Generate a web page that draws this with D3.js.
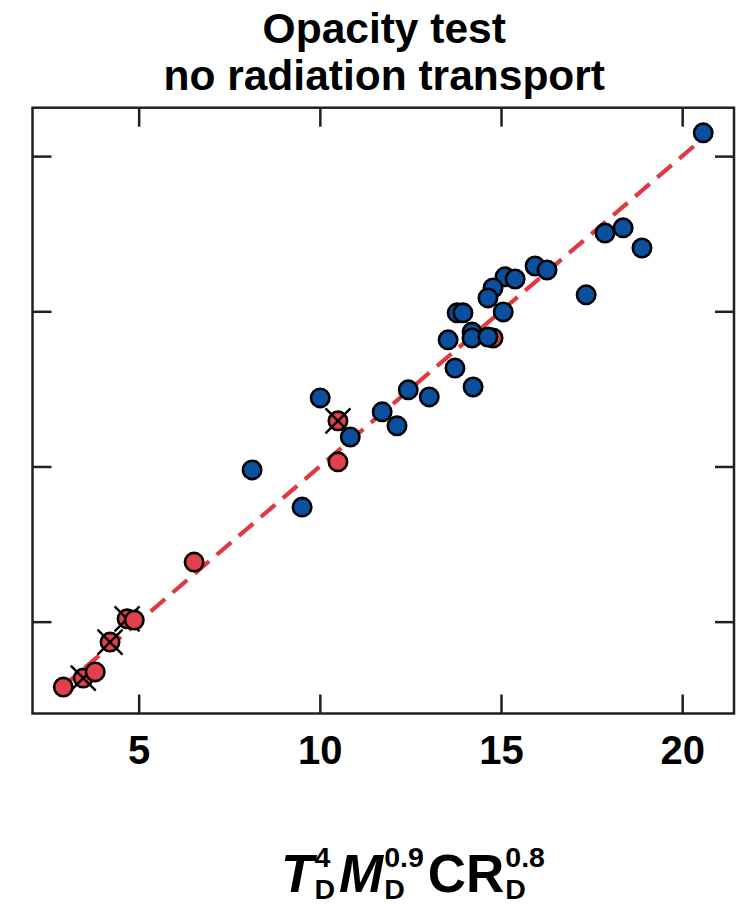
<!DOCTYPE html>
<html><head><meta charset="utf-8">
<script src="https://cdn.jsdelivr.net/npm/d3@7"></script>
<style>body{margin:0;background:#fff}svg{display:block}text{font-family:"Liberation Sans",Arial,Helvetica,sans-serif;font-weight:bold;fill:#000}</style>
</head><body>
<script>
// data (x, y)
const blueX = [20.58,17.87,18.37,18.89,15.94,16.27,15.11,15.39,14.78,14.64,15.06,17.35,13.79,13.95,14.20,14.20,14.64,13.54,13.73,14.23,12.44,13.02,11.72,12.13,10.84,10.01,8.13,9.51];
const blueY = [20.75,17.52,17.69,17.04,16.46,16.33,16.11,16.04,15.75,15.43,14.98,15.53,14.95,14.95,14.33,14.14,14.17,14.08,13.17,12.56,12.47,12.24,11.76,11.31,10.95,12.21,9.89,8.69];
const redX = [2.92,3.80,4.88,6.53,10.50,14.78];
const redY = [2.89,3.38,5.05,6.92,10.15,14.14];
const crossX = [3.47,4.21,4.68,10.50];
const crossY = [3.18,4.34,5.09,11.47];
const lineX = [2.9,20.6];
const xTicks = [5,10,15,20];
const yTicks = [5,10,15,20];
const titleLines = ["Opacity test","no radiation transport"];

const W=753,H=908;
const svg=d3.select("body").append("svg").attr("width",W).attr("height",H);
const L=32.5,R=734,T=107.7,B=713.5;
const x=d3.scaleLinear().domain([2.07,21.43]).range([L,R]);
const y=d3.scaleLinear().domain([2.04,21.56]).range([B,T]);
const blue="#0b4f9e", red="#e2404a", ink="#231f20";

// title
svg.selectAll("text.title").data(titleLines).join("text").attr("class","title")
  .attr("x",(L+R)/2+1).attr("y",(d,i)=>43+i*47).attr("text-anchor","middle")
  .style("font-size","42.5px").text(d=>d);

// dashed y=x line
svg.append("line").attr("x1",x(lineX[0])).attr("y1",y(lineX[0])).attr("x2",x(lineX[1])).attr("y2",y(lineX[1]))
  .attr("stroke","#e0393f").attr("stroke-width",4.2).attr("stroke-dasharray","19,10");

// axes
const tickLen=19;
const gb=svg.append("g").attr("transform",`translate(0,${B})`).call(d3.axisBottom(x).tickValues(xTicks).tickSize(-tickLen).tickPadding(22).tickFormat(d3.format("d")));
const gt=svg.append("g").attr("transform",`translate(0,${T})`).call(d3.axisTop(x).tickValues(xTicks).tickSize(-tickLen).tickFormat(""));
const gl=svg.append("g").attr("transform",`translate(${L},0)`).call(d3.axisLeft(y).tickValues(yTicks).tickSize(-tickLen).tickFormat(""));
const gr=svg.append("g").attr("transform",`translate(${R},0)`).call(d3.axisRight(y).tickValues(yTicks).tickSize(-tickLen).tickFormat(""));
[gb,gt,gl,gr].forEach(g=>{g.select(".domain").remove();g.selectAll("line").attr("stroke",ink).attr("stroke-width",2.5);});
gb.selectAll("text").style("font-size","40px").attr("fill","#000").style("font-family","'Liberation Sans',Arial,sans-serif").style("font-weight","bold");
svg.append("rect").attr("x",L).attr("y",T).attr("width",R-L).attr("height",B-T).attr("fill","none").attr("stroke",ink).attr("stroke-width",2.5);

// points
const rr=9.2;
const cross=crossX.map((v,i)=>({x:v,y:crossY[i]}));
const reds=redX.map((v,i)=>({x:v,y:redY[i]}));
const blues=blueX.map((v,i)=>({x:v,y:blueY[i]}));
const cg=svg.append("g");
cross.forEach(d=>{
  const g=cg.append("g");
  g.append("circle").attr("cx",x(d.x)).attr("cy",y(d.y)).attr("r",rr).attr("fill",red).attr("stroke","#000").attr("stroke-width",2.6);
  const c=12.5;
  g.append("line").attr("x1",x(d.x)-c).attr("y1",y(d.y)-c).attr("x2",x(d.x)+c).attr("y2",y(d.y)+c).attr("stroke","#000").attr("stroke-width",2.4);
  g.append("line").attr("x1",x(d.x)-c).attr("y1",y(d.y)+c).attr("x2",x(d.x)+c).attr("y2",y(d.y)-c).attr("stroke","#000").attr("stroke-width",2.4);
});
svg.append("g").selectAll("circle").data(reds).join("circle").attr("cx",d=>x(d.x)).attr("cy",d=>y(d.y)).attr("r",rr)
  .attr("fill",red).attr("stroke","#000").attr("stroke-width",2.6);
svg.append("g").selectAll("circle").data(blues).join("circle").attr("cx",d=>x(d.x)).attr("cy",d=>y(d.y)).attr("r",rr)
  .attr("fill",blue).attr("stroke","#000").attr("stroke-width",2.6);

// x label: T_D^4 M_D^0.9 CR_D^0.8
const lab=svg.append("g");
const parts=[{b:"T",it:true,sup:"4",sub:"D"},{b:"M",it:true,sup:"0.9",sub:"D"},{b:"CR",it:false,sup:"0.8",sub:"D"}];
const bigFs=53, smFs=28.5, base=892;
let cx=0;
parts.forEach(p=>{
  const t=lab.append("text").attr("x",cx).attr("y",base).style("font-size",bigFs+"px").style("font-style",p.it?"italic":"normal").text(p.b);
  cx+=t.node().getComputedTextLength()+1;
  const s1=lab.append("text").attr("x",cx).attr("y",base-25).style("font-size",smFs+"px").text(p.sup);
  const s2=lab.append("text").attr("x",cx).attr("y",base+7).style("font-size",smFs+"px").text(p.sub);
  cx+=Math.max(s1.node().getComputedTextLength(),s2.node().getComputedTextLength())+4;
});
lab.attr("transform",`translate(${415-cx/2},0)`);
</script>
</body></html>
